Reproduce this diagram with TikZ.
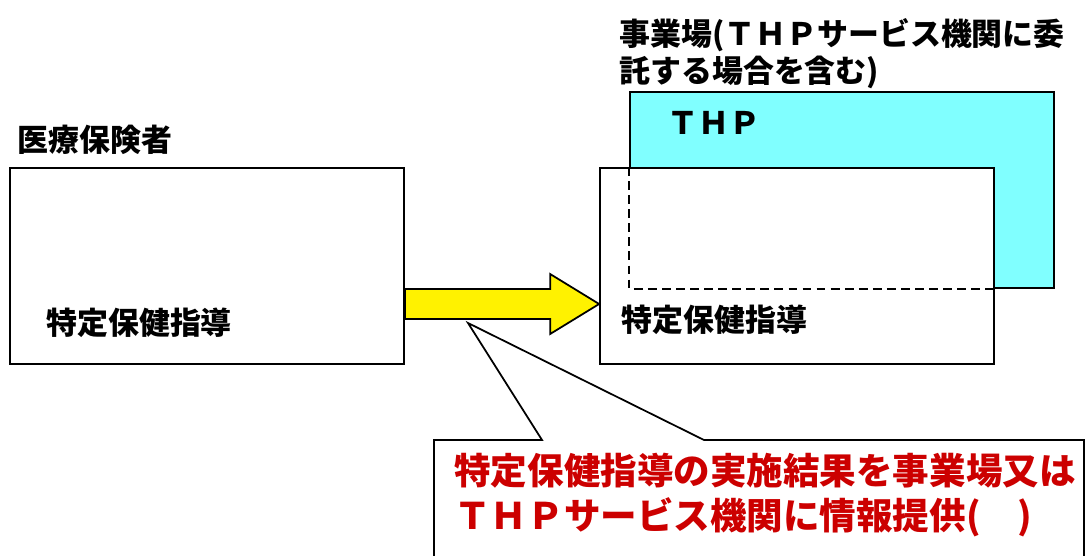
\documentclass[tikz,border=0pt]{standalone}
\usepackage{fontspec}
\setmainfont{Noto Sans CJK JP}
\usepackage{tikz}
\usetikzlibrary{calc}
\definecolor{thpcyan}{RGB}{128,255,255}
\definecolor{notered}{RGB}{204,0,0}

\begin{document}
\begin{tikzpicture}[box/.style = {draw, line width=1pt, fill=white, minimum width=7.88cm, minimum height=3.92cm, inner sep=0pt},
	txt/.style = {anchor=west, inner sep=0pt, font=\fontsize{17.6}{21}\selectfont\bfseries},
	redtxt/.style = {anchor=west, inner sep=0pt, text=notered, align=left, font=\fontsize{20.8}{25.6}\selectfont\bfseries}]
					\useasboundingbox (0,0) rectangle (21.72,11.1);
					\node[box, fill=thpcyan, minimum width=8.48cm] (thp) at (16.84,7.30) {};
					\node[box] (hoken) at (4.14,5.78) {};
					\node[box] (jigyo) at (15.94,5.78) {};
					\draw[dash pattern=on 5pt off 3pt, line width=0.8pt] (thp.west |- jigyo.north) -- (thp.south west) -- (thp.south -| jigyo.east);
					
					\node[txt] (hokenname) at (0.34,8.30) {医療保険者};
					\node[txt, align=left] (jigyoname) at (12.38,10.03) {事業場(ＴＨＰサービス機関に委\\託する場合を含む)};
					\node[txt] (thpname) at (13.34,8.64) {ＴＨＰ};
					\node[txt] (shido1) at (0.92,4.64) {特定保健指導};
					\node[txt] (shido2) at (12.42,4.70) {特定保健指導};
					
					\coordinate (a1) at (hoken.east |- 0,5.02);
					\coordinate (a2) at (jigyo.west |- 0,5.02);
					\draw[line width=1pt, fill=yellow] ($(a1)+(0,0.3)$) -- ($(a2)+(-0.98,0.3)$) -- ($(a2)+(-0.98,0.6)$) -- (a2)
						-- ($(a2)+(-0.98,-0.6)$) -- ($(a2)+(-0.98,-0.3)$) -- ($(a1)+(0,-0.3)$) -- cycle;
					
					\coordinate (tip) at (9.36,4.64);
					\draw[line width=1pt, fill=white] (8.68,-0.2) -- (8.68,2.30) -- (10.84,2.30) -- (tip) -- (14.08,2.30) -- (21.68,2.30) -- (21.68,-0.2);
					\node[redtxt] (kekka) at (9.08,1.19) {特定保健指導の実施結果を事業場又は\\ＴＨＰサービス機関に情報提供(　)};
				\end{tikzpicture}
\end{document}
